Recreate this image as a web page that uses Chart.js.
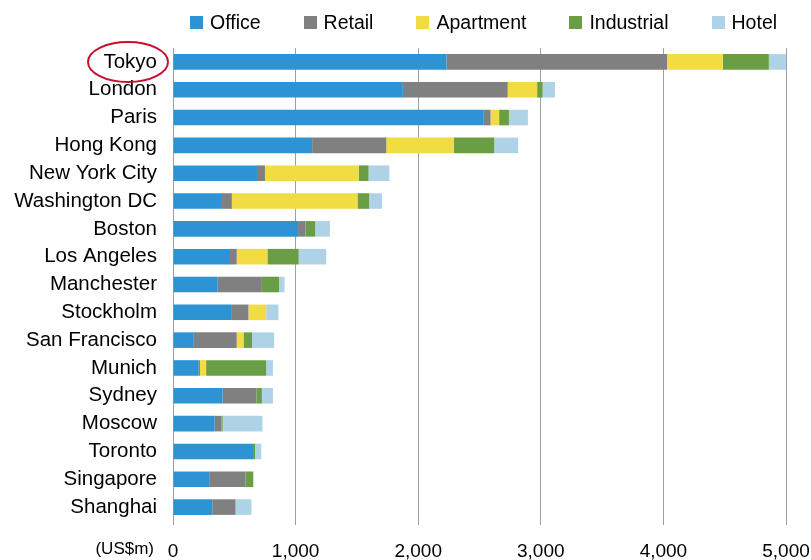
<!DOCTYPE html>
<html>
<head>
<meta charset="utf-8">
<script src="https://cdn.jsdelivr.net/npm/chart.js@4"></script>
<style>
    html, body { margin: 0; padding: 0; background: #fff; }
    #wrap { width: 811px; height: 560px; position: relative; }
    #legend { position: absolute; top: 11px; left: 190px; display: flex; align-items: center;
              font-family: "Liberation Sans", Arial, sans-serif; font-size: 19.5px; color: #000; }
    .leg-item { display: flex; align-items: center; margin-right: 43px; }
    .leg-box { width: 13px; height: 13px; margin-right: 7px; }
</style>
</head>
<body>
<div id="wrap"><canvas id="cityChart"></canvas><div id="legend"></div></div>
<script>
// --- DATA ---
const cities = ['Tokyo', 'London', 'Paris', 'Hong Kong', 'New York City', 'Washington DC', 'Boston',
    'Los Angeles', 'Manchester', 'Stockholm', 'San Francisco', 'Munich', 'Sydney', 'Moscow',
    'Toronto', 'Singapore', 'Shanghai'];
const office     = [2230, 1875, 2535, 1135, 685, 400, 1020, 465, 365, 480, 170, 210, 405, 340, 660, 295, 320];
const retail     = [1800, 855, 55, 605, 65, 80, 60, 55, 360, 135, 350, 10, 275, 55, 0, 295, 190];
const apartment  = [455, 240, 70, 550, 765, 1025, 0, 250, 0, 145, 55, 50, 0, 0, 0, 0, 0];
const industrial = [375, 45, 80, 330, 80, 95, 80, 255, 140, 0, 70, 490, 45, 10, 10, 65, 0];
const hotel      = [155, 100, 155, 195, 170, 105, 120, 225, 45, 100, 180, 55, 90, 325, 50, 0, 130];
const xTicks = [0, 1000, 2000, 3000, 4000, 5000];

const FONT = '"Liberation Sans", Arial, sans-serif';

// circle round the first city label + unit label under the axis
const extras = {
    id: 'extras',
    afterDraw(chart) {
        const { ctx, chartArea, scales } = chart;
        const y0 = scales.y.getPixelForValue(0);
        ctx.save();
        ctx.strokeStyle = '#c8102e';
        ctx.lineWidth = 2;
        ctx.beginPath();
        ctx.ellipse(chartArea.left - 45, y0, 40, 20, 0, 0, Math.PI * 2);
        ctx.stroke();

        ctx.fillStyle = '#000';
        ctx.font = '17px ' + FONT;
        ctx.textAlign = 'right';
        ctx.textBaseline = 'middle';
        ctx.fillText('(US$m)', chartArea.left - 19, 549);
        ctx.restore();
    }
};

// legend built as html so the item spacing can be wide without a tall legend box
const htmlLegend = {
    id: 'htmlLegend',
    afterUpdate(chart) {
        const box = document.getElementById('legend');
        box.innerHTML = '';
        chart.data.datasets.forEach(ds => {
            const item = document.createElement('div');
            item.className = 'leg-item';
            const sw = document.createElement('span');
            sw.className = 'leg-box';
            sw.style.background = ds.backgroundColor;
            const txt = document.createElement('span');
            txt.textContent = ds.label;
            item.appendChild(sw);
            item.appendChild(txt);
            box.appendChild(item);
        });
    }
};

function series(label, data, color) {
    return { label, data, backgroundColor: color, borderWidth: 0,
             barPercentage: 0.56, categoryPercentage: 1.0 };
}

new Chart(document.getElementById('cityChart'), {
    type: 'bar',
    data: {
        labels: cities,
        datasets: [
            series('Office', office, '#2e93d3'),
            series('Retail', retail, '#808080'),
            series('Apartment', apartment, '#f2dc44'),
            series('Industrial', industrial, '#6a9e44'),
            series('Hotel', hotel, '#afd3e6')
        ]
    },
    options: {
        indexAxis: 'y',
        responsive: true, maintainAspectRatio: false,
        animation: false,
        layout: { padding: { left: 0, right: 0, top: 48, bottom: 0 } },
        plugins: {
            legend: { display: false },
            tooltip: { enabled: false }
        },
        scales: {
            x: {
                stacked: true,
                min: 0, max: 5000,
                afterBuildTicks: axis => { axis.ticks = xTicks.map(v => ({ value: v })); },
                afterFit: axis => { axis.height = 39; axis.paddingRight = 25; },
                border: { display: false },
                grid: { color: '#a0a0a0', lineWidth: 1, tickLength: 4, drawTicks: true },
                ticks: {
                    color: '#000', padding: 15,
                    font: { family: FONT, size: 19 },
                    callback: v => v.toLocaleString('en-US')
                }
            },
            y: {
                stacked: true,
                afterFit: axis => { axis.width = 173; },
                border: { display: false },
                grid: { display: false },
                ticks: {
                    color: '#000', padding: 8, autoSkip: false,
                    font: { family: FONT, size: 20.5 }
                }
            }
        }
    },
    plugins: [extras, htmlLegend]
});
</script>
</body>
</html>
